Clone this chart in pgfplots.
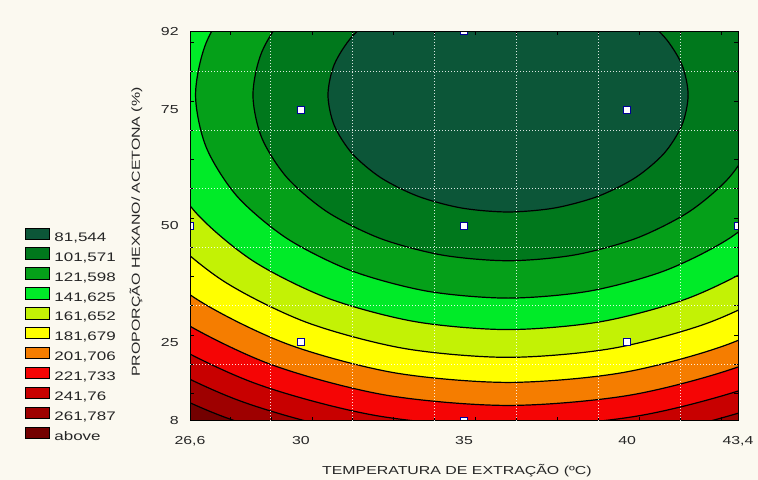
\documentclass[border=0pt]{standalone}
\usepackage{pgfplots}
\pgfplotsset{compat=1.18}
\usepackage{fontspec}
\setmainfont{Liberation Sans}[FakeStretch=1.37]
\definecolor{bgc}{RGB}{251,249,240}
\definecolor{c1}{RGB}{12,86,56}
\definecolor{c2}{RGB}{0,120,28}
\definecolor{c3}{RGB}{5,160,25}
\definecolor{c4}{RGB}{0,235,40}
\definecolor{c5}{RGB}{195,242,5}
\definecolor{c6}{RGB}{255,255,0}
\definecolor{c7}{RGB}{245,125,0}
\definecolor{c8}{RGB}{245,5,5}
\definecolor{c9}{RGB}{200,0,0}
\definecolor{c10}{RGB}{158,0,0}
\definecolor{cab}{RGB}{115,0,0}
\newcommand{\smallfont}{\fontsize{5.8}{7}\selectfont}
\newcommand{\legfont}{\fontsize{6.2}{7}\selectfont}
\pgfplotsset{cont/.style={draw=black, line width=0.6pt, smooth}}
\begin{document}
\begin{tikzpicture}
\fill[bgc] (0,0) rectangle (379pt,240pt);
\begin{axis}[
  at={(95pt,29.5pt)}, anchor=south west,
  scale only axis, width=274pt, height=195pt,
  xmin=26.6, xmax=43.4, ymin=8, ymax=92,
  axis on top,
  clip marker paths=true,
  /pgf/number format/assume math mode=true,
  xtick={26.6,30,35,40,43.4}, xticklabels={{26,6},30,35,40,{43,4}},
  ytick={8,25,50,75,92}, yticklabels={8,25,50,75,92},
  major tick length=0pt,
  minor xtick={27.83,29.08,30.34,31.59,32.84,34.10,35.35,36.61,37.86,39.12,40.37,41.63,42.88},
  minor ytick={89.5,83.2,76.9,70.6,64.3,58.0,51.7,45.4,39.1,32.8,26.5,20.2,13.9},
  minor tick length=2pt,
  tick style={black, line width=0.4pt},
  extra x ticks={29.08,31.59,34.10,36.61,39.12,41.63}, extra x tick labels={},
  extra y ticks={83.2,70.6,58.0,45.4,32.8,20.2}, extra y tick labels={},
  extra x tick style={grid=major, major grid style={white, opacity=0.85, line width=0.5pt, dash pattern=on 0.5pt off 1pt}},
  extra y tick style={grid=major, major grid style={white, opacity=0.85, line width=0.5pt, dash pattern=on 0.5pt off 1pt}},
  axis line style={black, line width=0.5pt},
  tick label style={font=\smallfont, text=black!85},
  xticklabel style={inner sep=0pt, yshift=-7.5pt},
  yticklabel style={inner sep=0pt, xshift=-5.5pt},
  xlabel={TEMPERATURA DE EXTRAÇÃO (ºC)},
  xlabel style={at={(axis description cs:0.487,-0.136)}, anchor=base, inner sep=0pt, font=\smallfont, text=black!85},
  ylabel={PROPORÇÃO HEXANO/ ACETONA (\%)},
  ylabel style={at={(axis description cs:-0.0985,0.4846)}, anchor=center, inner sep=0pt, font=\smallfont, text=black!85},
  reverse legend,
  legend cell align=left,
  legend image code/.code={\draw[#1, draw=black, line width=0.5pt] (0pt,-0.6pt) rectangle (12pt,5.1pt);},
  legend style={at={(axis description cs:-0.3011,0.497)}, anchor=north west, draw=none, fill=none,
    inner sep=0pt, row sep=1.85pt, column sep=2pt, font=\legfont, text=black!85,
    nodes={inner sep=0pt, text height=4.3pt, text depth=1.2pt}},
]
\addplot[fill=cab, draw=none] coordinates {(20,0) (50,0) (50,100) (20,100) (20,0)};
\addlegendentry{above}
\addplot[cont, fill=c10] coordinates {(18.85,130) (18.85,78.22) (19.44,57.53) (21.19,38.25) (23.97,21.69) (27.60,8.99) (31.82,1.00) (36.35,-1.72) (40.88,1.00) (45.10,8.99) (48.73,21.69) (51.51,38.25) (53.26,57.53) (53.85,78.22) (53.85,130) (18.85,130)};
\addlegendentry{261,787}
\addplot[cont, fill=c9] coordinates {(19.75,130) (19.75,78.22) (20.31,58.60) (21.97,40.31) (24.61,24.60) (28.05,12.55) (32.05,4.97) (36.35,2.39) (40.65,4.97) (44.65,12.55) (48.09,24.60) (50.73,40.31) (52.39,58.60) (52.96,78.22) (52.96,130) (19.75,130)};
\addlegendentry{241,76}
\addplot[cont, fill=c8] coordinates {(20.70,130) (20.70,78.22) (21.23,59.72) (22.79,42.48) (25.28,27.67) (28.52,16.31) (32.30,9.17) (36.35,6.73) (40.40,9.17) (44.18,16.31) (47.42,27.67) (49.91,42.48) (51.47,59.72) (52.01,78.22) (52.01,130) (20.70,130)};
\addlegendentry{221,733}
\addplot[cont, fill=c7] coordinates {(21.71,130) (21.71,78.22) (22.21,60.91) (23.67,44.79) (26.00,30.94) (29.03,20.31) (32.56,13.63) (36.35,11.35) (40.14,13.63) (43.67,20.31) (46.70,30.94) (49.03,44.79) (50.49,60.91) (50.99,78.22) (50.99,130) (21.71,130)};
\addlegendentry{201,706}
\addplot[cont, fill=c6] coordinates {(22.79,130) (22.79,78.22) (23.26,62.20) (24.61,47.27) (26.76,34.44) (29.57,24.61) (32.84,18.42) (36.35,16.31) (39.86,18.42) (43.13,24.61) (45.94,34.44) (48.09,47.27) (49.44,62.20) (49.91,78.22) (49.91,130) (22.79,130)};
\addlegendentry{181,679}
\addplot[cont, fill=c5] coordinates {(23.98,130) (23.98,78.22) (24.40,63.60) (25.64,49.96) (27.60,38.26) (30.16,29.28) (33.15,23.64) (36.35,21.71) (39.55,23.64) (42.54,29.28) (45.10,38.26) (47.07,49.96) (48.30,63.60) (48.72,78.22) (48.72,130) (23.98,130)};
\addlegendentry{161,652}
\addplot[cont, fill=c4] coordinates {(25.29,130) (25.29,78.22) (25.66,65.14) (26.77,52.95) (28.53,42.49) (30.82,34.46) (33.49,29.41) (36.35,27.69) (39.21,29.41) (41.88,34.46) (44.17,42.49) (45.93,52.95) (47.04,65.14) (47.42,78.22) (47.42,130) (25.29,130)};
\addlegendentry{141,625}
\addplot[cont, fill=c3] coordinates {(36.35,121.97) (33.87,120.48) (31.56,116.11) (29.58,109.16) (28.05,100.10) (27.10,89.54) (26.77,78.22) (27.10,66.90) (28.05,56.35) (29.58,47.28) (31.56,40.33) (33.87,35.96) (36.35,34.47) (38.83,35.96) (41.14,40.33) (43.12,47.28) (44.65,56.35) (45.60,66.90) (45.93,78.22) (45.60,89.54) (44.65,100.10) (43.12,109.16) (41.14,116.11) (38.83,120.48) (36.35,121.97)};
\addlegendentry{121,598}
\addplot[cont, fill=c2] coordinates {(36.35,113.92) (34.33,112.70) (32.44,109.14) (30.82,103.46) (29.58,96.07) (28.80,87.46) (28.53,78.22) (28.80,68.98) (29.58,60.37) (30.82,52.98) (32.44,47.30) (34.33,43.74) (36.35,42.52) (38.37,43.74) (40.26,47.30) (41.88,52.98) (43.12,60.37) (43.90,68.98) (44.17,78.22) (43.90,87.46) (43.12,96.07) (41.88,103.46) (40.26,109.14) (38.37,112.70) (36.35,113.92)};
\addlegendentry{101,571}
\addplot[cont, fill=c1] coordinates {(36.35,103.42) (34.92,102.56) (33.59,100.04) (32.45,96.04) (31.57,90.82) (31.02,84.74) (30.83,78.22) (31.02,71.70) (31.57,65.62) (32.45,60.40) (33.59,56.40) (34.92,53.88) (36.35,53.02) (37.78,53.88) (39.11,56.40) (40.25,60.40) (41.13,65.62) (41.68,71.70) (41.87,78.22) (41.68,84.74) (41.13,90.82) (40.25,96.04) (39.11,100.04) (37.78,102.56) (36.35,103.42)};
\addlegendentry{81,544}
\addplot[only marks, mark=square*, mark size=1.75pt, mark options={fill=white, draw=blue!60!black, line width=0.7pt}, forget plot] coordinates {(30,75) (40,75) (35,92) (35,50) (26.6,50) (43.4,50) (30,25) (40,25) (35,8)};
\end{axis}
\pgfresetboundingbox
\path[use as bounding box] (0,0) rectangle (379pt,240pt);
\end{tikzpicture}
\end{document}
